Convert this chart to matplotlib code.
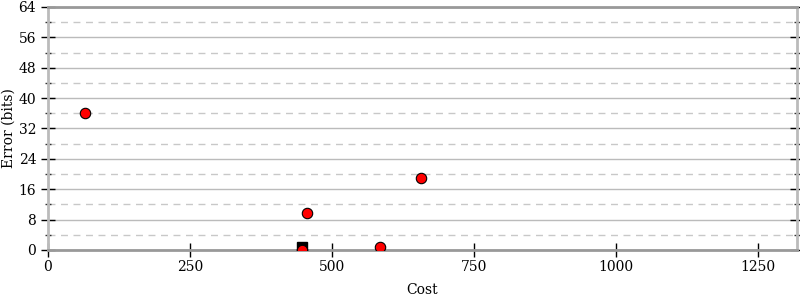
import matplotlib
matplotlib.use("Agg")
import matplotlib.pyplot as plt
from matplotlib.ticker import MultipleLocator

plt.rcParams['font.family'] = ['DejaVu Serif']

cost = [65, 456, 584, 657, 448]
error = [36.1, 9.7, 0.9, 19.0, 0.0]
best_cost = [448]
best_error = [0.8]
x_ticks = [0, 250, 500, 750, 1000, 1250]
y_ticks = [0, 8, 16, 24, 32, 40, 48, 56, 64]

fig = plt.figure(figsize=(8, 3), dpi=100)
ax = fig.add_axes([0.06, 0.1667, 0.936, 0.81])

ax.plot(best_cost, best_error, linestyle='none', marker='s', markersize=6.5,
        markerfacecolor='black', markeredgecolor='black', zorder=3)
ax.plot(cost, error, linestyle='none', marker='o', markersize=7.5,
        markerfacecolor='red', markeredgecolor='black', markeredgewidth=0.8, zorder=4)

ax.set_xlim(0, 1319)
ax.set_ylim(0, 64)
ax.set_xticks(x_ticks)
ax.set_yticks(y_ticks)
ax.yaxis.set_minor_locator(MultipleLocator(4))

ax.grid(which='major', axis='y', color='#bbbbbb', linestyle='-', linewidth=1)
ax.grid(which='minor', axis='y', color='#c8c8c8', linestyle=(0, (5, 4)), linewidth=1)
ax.set_axisbelow(True)

for s in ['left', 'right']:
    ax.spines[s].set_color('#bbbbbb')
    ax.spines[s].set_linewidth(2)
for s in ['top', 'bottom']:
    ax.spines[s].set_color('#999999')
    ax.spines[s].set_linewidth(2)

ax.tick_params(axis='y', which='major', direction='inout', length=10, width=1,
               left=True, right=True, labelsize=10, color='black')
ax.tick_params(axis='y', which='minor', direction='inout', length=5, width=1,
               left=True, right=True, color='#333333')
ax.tick_params(axis='x', which='major', direction='inout', length=10, width=1,
               bottom=True, top=False, labelsize=10, color='black', pad=2)

ax.set_xlabel('Cost', fontsize=10, labelpad=7)
ax.set_ylabel('Error (bits)', fontsize=10)
ax.yaxis.set_label_coords(-0.0427, 0.5)

fig.savefig('out.png', dpi=100)
